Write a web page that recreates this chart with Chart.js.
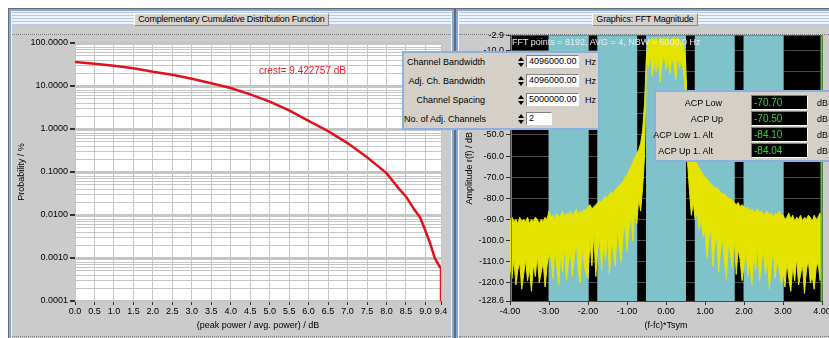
<!DOCTYPE html>
<html>
<head>
<meta charset="utf-8">
<script src="https://cdn.jsdelivr.net/npm/chart.js"></script>
<style>
body { margin: 0; width: 829px; height: 338px; background: #fff; overflow: hidden; position: relative; font-family: "Liberation Sans", Arial, sans-serif; font-size: 9px; color: #000; }
.panel { position: absolute; top: 8px; height: 334px; box-sizing: border-box; background: #cbcbcb; border: 1px solid #6c6c6c; box-shadow: inset 0 0 0 2px #86a6d6, inset 0 0 0 3px #f2f2f2; }
.titlebar { position: absolute; top: 3px; left: 3px; right: 3px; height: 13px; background: repeating-linear-gradient(to bottom, #b9c9e4 0 1px, #eef2f9 1px 3px); text-align: center; }
.titlebar span { display: inline-block; margin-top: 1px; height: 11px; line-height: 11px; padding: 0 3px; background: #d6d3ce; border: 1px solid; border-color: #fff #8a8a8a #8a8a8a #fff; letter-spacing: -0.2px; }
.dots { position: absolute; top: 25px; left: 3px; right: 3px; border-top: 1px dotted #7a7a7a; }
canvas { position: absolute; }
.box { position: absolute; box-sizing: border-box; background: #d4d0c8; border: 2px solid #8cb0e0; }
.lbl { position: absolute; height: 12px; line-height: 12px; white-space: nowrap; }
.inp { position: absolute; box-sizing: border-box; height: 13px; line-height: 11px; padding-left: 2px; background: #fff; border: 1px solid; border-color: #808080 #fff #fff #808080; }
.spin { position: absolute; width: 6px; height: 10px; }
.spin:before, .spin:after { content: ""; position: absolute; left: 0; border-left: 3px solid transparent; border-right: 3px solid transparent; }
.spin:before { top: 0; border-bottom: 4px solid #000; }
.spin:after { bottom: 0; border-top: 4px solid #000; }
.val { position: absolute; box-sizing: border-box; height: 15px; line-height: 13px; padding-left: 2px; background: #000; color: #3ad23a; border: 1px solid; border-color: #808080 #fff #fff #808080; font-size: 10px; }
.over { position: absolute; white-space: nowrap; }
</style>
</head>
<body>

<div class="panel" style="left:8px; width:447px;">
  <div class="titlebar"><span>Complementary Cumulative Distribution Function</span></div>
  <div class="dots"></div>
  <div class="dots" style="top:327px;"></div>
</div>
<div class="panel" style="left:455px; width:380px;">
  <div class="titlebar"><span>Graphics: FFT Magnitude</span></div>
  <div class="dots"></div>
  <div class="dots" style="top:327px;"></div>
</div>

<canvas id="ccdf" width="438" height="298" style="left:10px; top:35px;"></canvas>
<canvas id="fft" width="373" height="305" style="left:456px; top:28px;"></canvas>

<div class="over" style="left:259px; top:65px; font-size:10px; color:#e4202a;">crest= 9.422757 dB</div>
<div class="over" style="left:512px; top:37px; color:#ececec;">FFT points = 8192, AVG = 4, NBW = 6000.0 Hz</div>

<div class="box" style="left:402px; top:51px; width:198px; height:79px;">
  <div class="lbl" style="left:0; width:81px; text-align:right; top:3px;">Channel Bandwidth</div>
  <div class="lbl" style="left:0; width:81px; text-align:right; top:22px;">Adj. Ch. Bandwidth</div>
  <div class="lbl" style="left:0; width:81px; text-align:right; top:41px;">Channel Spacing</div>
  <div class="lbl" style="left:0; width:81px; text-align:right; top:60px;">No. of Adj. Channels</div>
  <div class="spin" style="left:114px; top:4px;"></div>
  <div class="spin" style="left:114px; top:23px;"></div>
  <div class="spin" style="left:114px; top:42px;"></div>
  <div class="spin" style="left:114px; top:61px;"></div>
  <div class="inp" style="left:122px; width:53px; top:2px;">4096000.00</div>
  <div class="inp" style="left:122px; width:53px; top:21px;">4096000.00</div>
  <div class="inp" style="left:122px; width:53px; top:40px;">5000000.00</div>
  <div class="inp" style="left:122px; width:26px; top:59px;">2</div>
  <div class="lbl" style="left:181px; top:3px;">Hz</div>
  <div class="lbl" style="left:181px; top:22px;">Hz</div>
  <div class="lbl" style="left:181px; top:41px;">Hz</div>
</div>

<div class="box" style="left:654px; top:90px; width:190px; height:72px;">
  <div class="lbl" style="right:120px; top:5px;">ACP Low</div>
  <div class="lbl" style="right:119px; top:21px;">ACP Up</div>
  <div class="lbl" style="right:129px; top:37px;">ACP Low 1. Alt</div>
  <div class="lbl" style="right:129px; top:53px;">ACP Up 1. Alt</div>
  <div class="val" style="left:95px; width:57px; top:3px;">-70.70</div>
  <div class="val" style="left:95px; width:57px; top:19px;">-70.50</div>
  <div class="val" style="left:95px; width:57px; top:35px;">-84.10</div>
  <div class="val" style="left:95px; width:57px; top:51px;">-84.04</div>
  <div class="lbl" style="left:161px; top:5px;">dB</div>
  <div class="lbl" style="left:161px; top:21px;">dB</div>
  <div class="lbl" style="left:161px; top:37px;">dB</div>
  <div class="lbl" style="left:161px; top:53px;">dB</div>
</div>

<script>
// CCDF curve
const ccdfDb = [0, 0.5, 1, 1.5, 2, 2.5, 3, 3.5, 4, 4.5, 5, 5.5, 6, 6.5, 7, 7.5, 8, 8.35, 8.5, 8.7, 8.86, 9.0, 9.12, 9.24, 9.3, 9.37, 9.4, 9.4];
const ccdfProb = [36.2, 32.9, 29.5, 25.8, 21.4, 18.2, 14.7, 11.6, 9.0, 6.4, 4.35, 2.7, 1.55, 0.89, 0.47, 0.22, 0.094, 0.038, 0.027, 0.014, 0.0089, 0.0043, 0.0022, 0.0010, 0.0008, 0.00062, 0.00062, 0.0001];
const ccdfXTicks = [0, 0.5, 1, 1.5, 2, 2.5, 3, 3.5, 4, 4.5, 5, 5.5, 6, 6.5, 7, 7.5, 8, 8.5, 9, 9.4];
const ccdfDecades = [0.0001, 0.001, 0.01, 0.1, 1, 10, 100];

// FFT magnitude: upper edge and lower (noise) edge of the trace, one value per bin
const fftStart = -4;
const fftStep = 0.05;
const specTop = [
  -90, -89, -91, -90, -92, -89, -91, -90, -91, -89, -92, -90, -91, -89, -90, -92, -90, -91, -89, -90, -86,
  -89, -88, -90, -87, -89, -88, -86, -89, -87, -88, -86, -88, -87, -85, -88, -86, -87, -85, -86, -84,
  -83, -85, -84, -83, -82, -81, -82, -80, -79, -80, -78, -77, -78, -76, -75, -74, -73, -72, -70, -69,
  -67, -65, -63, -61, -59, -57, -54, -48, -35,
  -12, -6, -5, -4, -5, -4, -6, -4, -5, -4, -5, -4, -6, -5, -4, -5, -4, -5, -6, -8, -14,
  -38, -50, -56, -59, -62, -64, -66, -67, -69,
  -70, -71, -72, -73, -74, -75, -75, -76, -77, -78, -78, -79, -80, -80, -81, -82, -83, -82, -84, -83,
  -84, -85, -84, -86, -85, -87, -86, -85, -87, -86, -88, -87, -86, -88, -87, -89, -87, -88, -86, -88,
  -88, -90, -89, -87, -90, -88, -91, -89, -90, -88, -91, -89, -90, -88, -89, -91, -88, -90, -89, -87, -90
];
const specBottom = [
  -112, -118, -108, -121, -114, -110, -123, -116, -109, -119, -113, -124, -111, -117, -107, -120, -115, -110, -122, -112, -106,
  -108, -118, -104, -112, -121, -106, -115, -102, -119, -110, -105, -117, -108, -100, -114, -120, -103, -111, -116, -118,
  -100, -112, -96, -117, -104, -98, -114, -101, -109, -95, -116, -99, -106, -112, -94, -103, -110, -97, -92, -105,
  -95, -88, -100, -85, -92, -80, -86, -75, -60,
  -14, -18, -12, -22, -15, -20, -13, -25, -16, -12, -19, -14, -21, -13, -17, -24, -12, -18, -15, -20, -30,
  -62, -76, -88, -82, -90, -86, -95, -89, -98,
  -96, -108, -100, -93, -112, -102, -97, -115, -104, -99, -110, -118, -101, -106, -113, -98, -116, -104, -109, -119,
  -112, -103, -117, -108, -121, -106, -114, -101, -119, -110, -104, -116, -108, -123, -111, -105, -118, -109, -113, -120,
  -115, -122, -110, -118, -124, -112, -119, -108, -121, -116, -111, -125, -114, -109, -120, -117, -123, -113, -110, -119, -112
];
const fftYTicks = [-2.9, -10, -20, -30, -40, -50, -60, -70, -80, -90, -100, -110, -120, -128.6];
const fftXTicks = [-4, -3, -2, -1, 0, 1, 2, 3, 4];
const chanLow = [-3.012, -1.762, -0.512, 0.738, 1.988];
const chanHigh = [-1.988, -0.738, 0.512, 1.762, 3.012];
const markerX = [-3.94, 4.0];
const markerColor = ['#e0505a', '#5cc43a'];

const font = { family: '"Liberation Sans", Arial, sans-serif', size: 9 };
const isDecade = v => Math.abs(Math.log10(v) - Math.round(Math.log10(v))) < 1e-9;

let areaFill = (color) => ({
    id: 'areaFill' + color,
    beforeDraw: (chart) => {
        const a = chart.chartArea;
        chart.ctx.save();
        chart.ctx.fillStyle = color;
        chart.ctx.fillRect(a.left, a.top, a.right - a.left, a.bottom - a.top);
        chart.ctx.restore();
    }
});

let ccdfChart = new Chart(document.getElementById('ccdf'), {
    type: 'line',
    data: {
        datasets: [{
            data: ccdfDb.map((x, i) => ({ x: x, y: ccdfProb[i] })),
            borderColor: '#e0121e',
            borderWidth: 2.5,
            pointRadius: 0,
            tension: 0
        }]
    },
    options: {
        responsive: false,
        animation: false,
        layout: { padding: { top: 8, right: 7, left: 0, bottom: 0 } },
        plugins: { legend: { display: false }, tooltip: { enabled: false } },
        scales: {
            x: {
                type: 'linear', min: 0, max: 9.4,
                afterBuildTicks: s => { s.ticks = ccdfXTicks.map(v => ({ value: v })); },
                afterFit: s => { s.height = 32; s.paddingLeft = 0; s.paddingRight = 0; },
                ticks: { autoSkip: false, maxRotation: 0, padding: 1, color: '#000', font: font, callback: v => v.toFixed(1) },
                grid: { color: '#c6c6c6', tickLength: 4, tickColor: '#333' },
                border: { display: false },
                title: { display: true, text: '(peak power / avg. power) / dB', color: '#000', font: font, padding: { top: 0, bottom: 1.6 } }
            },
            y: {
                type: 'logarithmic', min: 0.0001, max: 100,
                afterBuildTicks: s => {
                    let t = [];
                    ccdfDecades.forEach(d => {
                        if (d === 100) { t.push({ value: d }); return; }
                        for (let k = 1; k < 10; k++) t.push({ value: +(d * k).toPrecision(6) });
                    });
                    s.ticks = t;
                },
                afterFit: s => { s.width = 65; },
                ticks: { autoSkip: false, padding: 2, color: '#000', font: font, callback: v => isDecade(v) ? v.toFixed(4) : '' },
                grid: {
                    color: ctx => '#c6c6c6',
                    lineWidth: ctx => ctx.tick && isDecade(ctx.tick.value) ? 2 : 1,
                    tickLength: 5,
                    tickColor: ctx => ctx.tick && isDecade(ctx.tick.value) ? '#333' : 'rgba(0,0,0,0)'
                },
                border: { display: false },
                title: { display: true, text: 'Probability / %', color: '#000', font: font, padding: { top: 6.6, bottom: 0 } }
            }
        }
    },
    plugins: [areaFill('#ffffff')]
});

const channelBands = {
    id: 'channelBands',
    beforeDatasetsDraw: (chart) => {
        const a = chart.chartArea;
        const xs = chart.scales.x;
        const ctx = chart.ctx;
        ctx.save();
        ctx.fillStyle = '#7fc2ca';
        chanLow.forEach((lo, i) => {
            const x0 = xs.getPixelForValue(lo);
            const x1 = xs.getPixelForValue(chanHigh[i]);
            ctx.fillRect(x0, a.top, x1 - x0, a.bottom - a.top);
        });
        ctx.restore();
    },
    afterDatasetsDraw: (chart) => {
        const a = chart.chartArea;
        const xs = chart.scales.x;
        const ctx = chart.ctx;
        ctx.save();
        markerX.forEach((m, i) => {
            const x = Math.round(xs.getPixelForValue(m)) - 0.5;
            ctx.strokeStyle = markerColor[i];
            ctx.lineWidth = i === 1 ? 2 : 1;
            ctx.beginPath();
            ctx.moveTo(x, a.top);
            ctx.lineTo(x, a.bottom);
            ctx.stroke();
        });
        ctx.restore();
    }
};

let specFreq = specTop.map((_, i) => +(fftStart + i * fftStep).toFixed(2));

let fftChart = new Chart(document.getElementById('fft'), {
    type: 'line',
    data: {
        datasets: [{
            data: specFreq.map((x, i) => ({ x: x, y: specTop[i] })),
            borderColor: '#e4e400',
            backgroundColor: '#e4e400',
            borderWidth: 1,
            pointRadius: 0,
            tension: 0,
            fill: '+1'
        }, {
            data: specFreq.map((x, i) => ({ x: x, y: specBottom[i] })),
            borderColor: '#e4e400',
            borderWidth: 1,
            pointRadius: 0,
            tension: 0,
            fill: false
        }]
    },
    options: {
        responsive: false,
        animation: false,
        layout: { padding: { top: 6, right: 7, left: 0, bottom: 0 } },
        plugins: { legend: { display: false }, tooltip: { enabled: false } },
        scales: {
            x: {
                type: 'linear', min: -4, max: 4,
                afterBuildTicks: s => { s.ticks = fftXTicks.map(v => ({ value: v })); },
                afterFit: s => { s.height = 32; s.paddingLeft = 0; s.paddingRight = 0; },
                ticks: { autoSkip: false, maxRotation: 0, padding: 1, color: '#000', font: font, callback: v => v.toFixed(2) },
                grid: { color: '#4a4a4a', tickLength: 4, tickColor: '#333' },
                border: { display: false },
                title: { display: true, text: '(f-fc)*Tsym', color: '#000', font: font, padding: { top: 0, bottom: 1.6 } }
            },
            y: {
                type: 'linear', min: -128.6, max: -2.9,
                afterBuildTicks: s => { s.ticks = fftYTicks.map(v => ({ value: v })); },
                afterFit: s => { s.width = 54; },
                ticks: { autoSkip: false, padding: 2, color: '#000', font: font, callback: v => v.toFixed(1) },
                grid: { color: '#4a4a4a', tickLength: 4, tickColor: '#333' },
                border: { display: false },
                title: { display: true, text: 'Amplitude r(f) / dB', color: '#000', font: font, padding: { top: 8.6, bottom: 0 } }
            }
        }
    },
    plugins: [areaFill('#000000'), channelBands]
});
</script>
</body>
</html>
